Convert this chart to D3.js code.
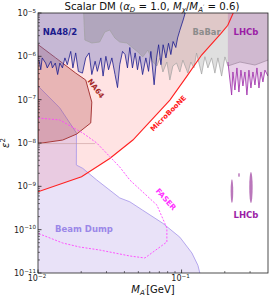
<!DOCTYPE html>
<html>
<head>
<meta charset="utf-8">
<script src="https://cdn.jsdelivr.net/npm/d3@7"></script>
<style>
  body { margin: 0; background: #fff; }
  svg { display: block; font-family: "DejaVu Sans", sans-serif; }
</style>
</head>
<body>
<div id="chart"></div>
<script>
// data (mass in GeV, epsilon^2)
var xTicks = [0.01, 0.1];
var yTicks = [1e-11, 1e-10, 1e-9, 1e-8, 1e-7, 1e-6, 1e-5];

var microbooneLine = [
  [0.0100, 7.5e-10], [0.0201, 1.67e-9], [0.0316, 4.4e-9], [0.0458, 1.17e-8],
  [0.0829, 9.8e-8], [0.1084, 3.4e-7], [0.1379, 1.07e-6], [0.1870, 3.3e-6],
  [0.2100, 5.2e-6], [0.2290, 1e-5]
];

var beamDumpEdge = [
  [0.0100, 2.07e-7], [0.01416, 6.5e-8], [0.01853, 1.7e-8], [0.0185, 3.1e-9],
  [0.0205, 2.6e-9], [0.02566, 1.4e-9], [0.0371, 5.4e-10], [0.0436, 4.4e-10],
  [0.0537, 2.8e-10], [0.0741, 1.4e-10], [0.0973, 6.7e-11], [0.118, 2.9e-11],
  [0.130, 1.5e-11], [0.134, 1e-11]
];

var na64Edge = [
  [0.0100, 1.87e-6], [0.01329, 9.2e-7], [0.01832, 4.1e-7], [0.0215, 2.84e-7],
  [0.0237, 8.8e-8], [0.0233, 2.9e-8], [0.0186, 1.61e-8], [0.01486, 1.17e-8],
  [0.0100, 9.7e-9]
];
var na64Floor = [[0.0100, 9.7e-9], [0.0250, 9.7e-9]];

var na48Line = [
  [0.0100, 8.0e-7], [0.0102, 7.7e-7], [0.01045, 4.9e-7], [0.0107, 9.2e-7],
  [0.0113, 7.0e-7], [0.0116, 5.4e-7], [0.0123, 7.7e-7], [0.0126, 5.4e-7],
  [0.0132, 7.0e-7], [0.0137, 3.8e-7], [0.0142, 7.0e-7], [0.0148, 5.4e-7],
  [0.0154, 9.2e-7], [0.0160, 6.4e-7], [0.0169, 1.3e-6], [0.0175, 5.4e-7],
  [0.0183, 1.2e-6], [0.0191, 4.5e-7], [0.0204, 4.1e-7], [0.0215, 9.2e-7],
  [0.0227, 1.2e-6], [0.0237, 3.8e-7], [0.0250, 7.7e-7], [0.0259, 4.5e-7],
  [0.0274, 9.2e-7], [0.0284, 3.5e-7], [0.0297, 1.0e-6], [0.0310, 4.9e-7],
  [0.0327, 9.2e-7], [0.0344, 3.8e-7], [0.0358, 1.9e-7], [0.0371, 6.4e-7],
  [0.0388, 1.3e-6], [0.0404, 1.1e-6], [0.0420, 5.4e-7], [0.0436, 1.6e-6],
  [0.0455, 5.4e-7], [0.0475, 1.2e-6], [0.0493, 4.9e-7], [0.0512, 1.0e-6],
  [0.0535, 3.8e-7], [0.0564, 9.2e-7], [0.0589, 4.5e-7], [0.0611, 1.3e-6],
  [0.0644, 2.2e-7], [0.0670, 9.2e-7], [0.0692, 1.85e-6], [0.0718, 6.4e-7],
  [0.0744, 1.85e-6], [0.0778, 9.2e-7], [0.0811, 2.0e-6], [0.0842, 1.1e-6],
  [0.0873, 2.2e-6], [0.0912, 1.6e-6], [0.0938, 2.65e-6], [0.0973, 4.0e-6],
  [0.1026, 6.9e-6], [0.1060, 1e-5]
];

var babarLine = [
  [0.0208, 1e-5], [0.0212, 2.38e-6], [0.0237, 2.03e-6], [0.0269, 2.14e-6],
  [0.0292, 3.64e-6], [0.0316, 4.05e-6], [0.0343, 2.65e-6], [0.0371, 2.14e-6],
  [0.0416, 2.03e-6], [0.0458, 1.56e-6], [0.0496, 1.26e-6], [0.0537, 9.7e-7],
  [0.0582, 1.40e-6], [0.0631, 7.4e-7], [0.0673, 6.0e-7], [0.0706, 9.2e-7],
  [0.0741, 4.35e-7], [0.0790, 7.4e-7], [0.0829, 2.84e-7], [0.0870, 6.0e-7],
  [0.0923, 7.0e-7], [0.0973, 4.35e-7], [0.1021, 8.2e-7], [0.1106, 4.1e-7],
  [0.1161, 7.4e-7], [0.1218, 5.4e-7], [0.1272, 1.19e-6], [0.1379, 3.9e-7],
  [0.1454, 9.8e-7], [0.1526, 5.4e-7], [0.1619, 9.2e-7], [0.1707, 4.1e-7],
  [0.1791, 9.2e-7], [0.1901, 3.5e-7], [0.2004, 9.7e-7], [0.2103, 6.0e-7],
  [0.2551, 7.4e-7], [0.3245, 6.3e-7], [0.4000, 8.2e-7]
];

var lhcbLine = [
  [0.2103, 7.4e-7], [0.2172, 2.84e-7], [0.2232, 1.28e-7], [0.2279, 4.35e-7],
  [0.2353, 1.67e-7], [0.2430, 5.4e-7], [0.2509, 1.5e-7], [0.2591, 4.8e-7],
  [0.2676, 2.07e-7], [0.2763, 4.35e-7], [0.2853, 1.28e-7], [0.2946, 4.8e-7],
  [0.3042, 1.86e-7], [0.3142, 4.35e-7], [0.3245, 2.18e-7], [0.3350, 5.4e-7],
  [0.3460, 1.86e-7], [0.3573, 4.35e-7], [0.3689, 2.56e-7], [0.3809, 4.8e-7],
  [0.4000, 3.5e-7]
];

// LHCb displaced islands: [mMin, mMax, epsMin, epsMax]
var lhcbIslands = [
  [0.2197, 0.2290, 4.1e-10, 1.45e-9],
  [0.2961, 0.3127, 4.1e-10, 2.14e-9],
  [0.2480, 0.2545, 1.64e-9, 2.03e-9]
];

var faserContour = [
  [0.0100, 3.78e-8], [0.01417, 3.4e-8], [0.0205, 1.7e-8], [0.02566, 1e-8],
  [0.0371, 2.79e-9], [0.0436, 1.4e-9], [0.0673, 3.7e-10], [0.0790, 1.09e-10],
  [0.0790, 5.2e-11], [0.0555, 2.22e-11], [0.0436, 2.47e-11], [0.0269, 3.39e-11],
  [0.0195, 3.98e-11], [0.01486, 4.92e-11], [0.0100, 8.24e-11]
];

//dims
var width = 270;
var height = 298;
var plotL = 38, plotR = 268, plotT = 13, plotB = 273;

var x = d3.scaleLog().domain([0.01, 0.4]).range([plotL, plotR]);
var y = d3.scaleLog().domain([1e-11, 1e-5]).range([plotB, plotT]);

var svg = d3.select("#chart")
  .append('svg')
  .attr('width', width)
  .attr('height', height);

svg.append('clipPath').attr('id', 'plot')
  .append('rect')
  .attr('x', plotL).attr('y', plotT)
  .attr('width', plotR - plotL).attr('height', plotB - plotT);

var line = d3.line()
  .x(function(d) { return x(d[0]); })
  .y(function(d) { return y(d[1]); });

var g = svg.append('g').attr('clip-path', 'url(#plot)');

// MicroBooNE (everything above the red line)
g.append('path')
  .attr('d', line([[0.01, 1e-5]].concat(microbooneLine)) + 'Z')
  .attr('fill', '#ffe3e3');

// beam dump
g.append('path')
  .attr('d', line(beamDumpEdge.concat([[0.01, 1e-11]])) + 'Z')
  .attr('fill', '#9370db').attr('fill-opacity', 0.2);
g.append('path')
  .attr('d', line(beamDumpEdge))
  .attr('fill', 'none').attr('stroke', '#a594ea').attr('stroke-width', 0.8);

// NA64
g.append('path')
  .attr('d', line(na64Edge) + 'Z')
  .attr('fill', '#a52a2a').attr('fill-opacity', 0.25)
  .attr('stroke', '#a83a3a').attr('stroke-width', 1);
g.append('path')
  .attr('d', line(na64Floor))
  .attr('fill', 'none').attr('stroke', '#c89a9a').attr('stroke-width', 0.6);

// NA48/2
g.append('path')
  .attr('d', line([[0.01, 1e-5]].concat(na48Line)) + 'Z')
  .attr('fill', '#7077c0').attr('fill-opacity', 0.4);

// BaBar
g.append('path')
  .attr('d', line(babarLine.concat([[0.4, 1e-5]])) + 'Z')
  .attr('fill', '#606060').attr('fill-opacity', 0.2);
g.append('path')
  .attr('d', line(babarLine))
  .attr('fill', 'none').attr('stroke', '#a0a0a0').attr('stroke-width', 0.7);

g.append('path')
  .attr('d', line(na48Line))
  .attr('fill', 'none').attr('stroke', '#1c1c8e').attr('stroke-width', 0.8);

// LHCb
g.append('path')
  .attr('d', line([[0.2103, 1e-5]].concat(lhcbLine, [[0.4, 1e-5]])) + 'Z')
  .attr('fill', '#a349a4').attr('fill-opacity', 0.25);
g.append('path')
  .attr('d', line(lhcbLine))
  .attr('fill', 'none').attr('stroke', '#9c27a8').attr('stroke-width', 0.8);

g.selectAll('ellipse.island')
  .data(lhcbIslands)
  .enter()
  .append('ellipse')
  .attr('class', 'island')
  .attr('cx', function(d) { return (x(d[0]) + x(d[1])) / 2; })
  .attr('cy', function(d) { return (y(d[2]) + y(d[3])) / 2; })
  .attr('rx', function(d) { return (x(d[1]) - x(d[0])) / 2; })
  .attr('ry', function(d) { return (y(d[2]) - y(d[3])) / 2; })
  .attr('fill', '#a349a4').attr('fill-opacity', 0.75);

// MicroBooNE line
g.append('path')
  .attr('d', line(microbooneLine))
  .attr('fill', 'none').attr('stroke', '#ff2020').attr('stroke-width', 1.1);

// FASER
g.append('path')
  .attr('d', line(faserContour))
  .attr('fill', 'none').attr('stroke', '#ff44ff').attr('stroke-width', 0.9)
  .attr('stroke-dasharray', '2,1.5');

// labels
function label(txt, px, py, color, size, rot) {
  svg.append('text')
    .attr('transform', 'translate(' + px + ',' + py + ') rotate(' + (rot || 0) + ')')
    .attr('text-anchor', 'middle')
    .attr('font-weight', 'bold')
    .attr('font-size', size)
    .attr('fill', color)
    .text(txt);
}
label('NA48/2', 60, 35, '#1a1a8c', 8.5, 0);
label('BaBar', 206.5, 35, '#8c8c8c', 8.3, 0);
label('LHCb', 246, 35, '#9b1ea6', 8.5, 0);
label('NA64', 94, 90, '#a52a2a', 7.3, 52);
label('MicroBooNE', 170, 115, '#ff1a1a', 7, -45);
label('FASER', 164, 201, '#ff33ff', 7.5, 48);
label('Beam Dump', 84, 232, '#9b87e8', 8.5, 0);
label('LHCb', 246, 218, '#9b1ea6', 8.5, 0);

// frame
svg.append('rect')
  .attr('x', plotL).attr('y', plotT)
  .attr('width', plotR - plotL).attr('height', plotB - plotT)
  .attr('fill', 'none').attr('stroke', '#222').attr('stroke-width', 0.8);

// ticks
var yMinor = [];
yTicks.forEach(function(t) {
  for (var k = 2; k <= 9; k++) if (t * k < 1e-5) yMinor.push(t * k);
});
var xMinor = [];
[0.01, 0.1].forEach(function(t) {
  for (var k = 2; k <= 9; k++) if (t * k < 0.4) xMinor.push(t * k);
});

svg.selectAll('line.ymin').data(yMinor).enter().append('line')
  .attr('x1', plotL).attr('x2', plotL + 2)
  .attr('y1', function(d) { return y(d); }).attr('y2', function(d) { return y(d); })
  .attr('stroke', '#222').attr('stroke-width', 0.6);
svg.selectAll('line.ymaj').data(yTicks).enter().append('line')
  .attr('x1', plotL).attr('x2', plotL + 3.5)
  .attr('y1', function(d) { return y(d); }).attr('y2', function(d) { return y(d); })
  .attr('stroke', '#222').attr('stroke-width', 0.8);
svg.selectAll('line.xmin').data(xMinor).enter().append('line')
  .attr('y1', plotB).attr('y2', plotB - 2)
  .attr('x1', function(d) { return x(d); }).attr('x2', function(d) { return x(d); })
  .attr('stroke', '#222').attr('stroke-width', 0.6);
svg.selectAll('line.xmaj').data(xTicks).enter().append('line')
  .attr('y1', plotB).attr('y2', plotB - 3.5)
  .attr('x1', function(d) { return x(d); }).attr('x2', function(d) { return x(d); })
  .attr('stroke', '#222').attr('stroke-width', 0.8);

function pow10(sel) {
  sel.append('tspan').text('10');
  sel.append('tspan')
    .attr('dy', -3.5).attr('font-size', 5.6)
    .text(function(d) { return '\u2212' + Math.round(-Math.log10(d)); });
}

svg.selectAll('text.ylab').data(yTicks).enter().append('text')
  .attr('class', 'ylab')
  .attr('x', plotL - 2)
  .attr('y', function(d) { return y(d) + 3; })
  .attr('text-anchor', 'end')
  .attr('font-size', 8)
  .attr('fill', '#222')
  .call(pow10);

svg.selectAll('text.xlab').data(xTicks).enter().append('text')
  .attr('class', 'xlab')
  .attr('x', function(d) { return x(d) - 1; })
  .attr('y', plotB + 8)
  .attr('text-anchor', 'middle')
  .attr('font-size', 8)
  .attr('fill', '#222')
  .call(pow10);

// title
var title = svg.append('text')
  .attr('x', 152).attr('y', 9.5)
  .attr('text-anchor', 'middle')
  .attr('font-size', 10.2)
  .attr('fill', '#111');
title.append('tspan').text('Scalar DM  (');
title.append('tspan').attr('font-style', 'italic').text('\u03b1');
title.append('tspan').attr('font-style', 'italic').attr('font-size', 7).attr('dy', 2).text('D');
title.append('tspan').attr('dy', -2).text(' = 1.0, ');
title.append('tspan').attr('font-style', 'italic').text('M');
title.append('tspan').attr('font-style', 'italic').attr('font-size', 7).attr('dy', 2).text('\u03c7');
title.append('tspan').attr('dy', -2).text('/');
title.append('tspan').attr('font-style', 'italic').text('M');
title.append('tspan').attr('font-style', 'italic').attr('font-size', 7).attr('dy', 2).text('A');
title.append('tspan').attr('font-size', 6).attr('dy', -2.5).text('\u2032');
title.append('tspan').attr('dy', 0.5).text(' = 0.6)');

// axis titles
var xl = svg.append('text')
  .attr('x', 153).attr('y', 293)
  .attr('text-anchor', 'middle')
  .attr('font-size', 10)
  .attr('fill', '#111');
xl.append('tspan').attr('font-style', 'italic').text('M');
xl.append('tspan').attr('font-style', 'italic').attr('font-size', 7).attr('dy', 2).text('A');
xl.append('tspan').attr('font-size', 6).attr('dy', -2.5).text('\u2032');
xl.append('tspan').attr('dy', 0.5).text('[GeV]');

var yl = svg.append('text')
  .attr('transform', 'translate(9,143) rotate(-90)')
  .attr('text-anchor', 'middle')
  .attr('font-size', 10)
  .attr('fill', '#111');
yl.append('tspan').attr('font-style', 'italic').text('\u03b5');
yl.append('tspan').attr('font-size', 7).attr('dy', -4).text('2');
</script>
</body>
</html>
